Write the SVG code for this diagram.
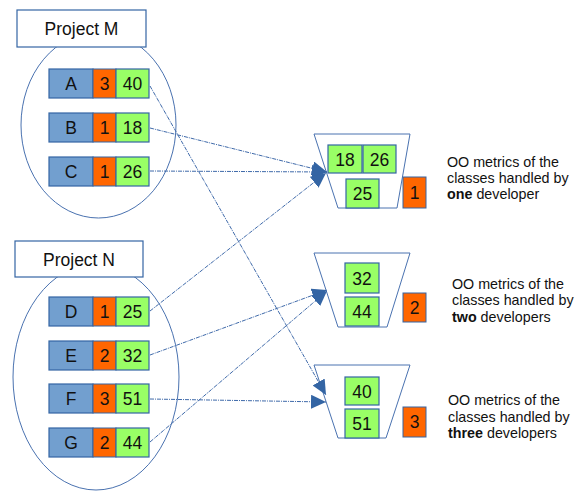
<svg xmlns="http://www.w3.org/2000/svg" width="576" height="491" viewBox="0 0 576 491">
<style>
text{font-family:"Liberation Sans",Arial,sans-serif;fill:#111}
.lbl{font-size:17.5px;text-anchor:middle}
.proj{font-size:17.5px;text-anchor:middle}
.desc{font-size:14.3px}
.b{fill:#729fcf;stroke:#3465a4;stroke-width:1.2}
.o{fill:#ff6600;stroke:#3465a4;stroke-width:1}
.g{fill:#99ff66;stroke:#3465a4;stroke-width:1.2}
.box{fill:#fff;stroke:#3465a4;stroke-width:1.2}
.ell{fill:none;stroke:#4a72b0;stroke-width:1}
.fun{fill:#fff;stroke:#4a72b0;stroke-width:1}
.con{fill:none;stroke:#3f6aaa;stroke-width:1;stroke-dasharray:4 1 1 1;marker-end:url(#ah)}
</style>
<defs>
<marker id="ah" markerUnits="userSpaceOnUse" markerWidth="16" markerHeight="14" refX="15" refY="7" orient="auto">
<path d="M0,0 L15,7 L0,14 z" fill="#3465a4"/>
</marker>
</defs>
<rect width="576" height="491" fill="#fff"/>

<g id="projectM">
<ellipse class="ell" cx="98.5" cy="125" rx="77.5" ry="93"/>
<rect class="box" x="17" y="10" width="129" height="37"/>
<text class="proj" x="81.5" y="35">Project M</text>
</g>
<g id="projectN">
<ellipse class="ell" cx="96" cy="377" rx="83" ry="113"/>
<rect class="box" x="15" y="241" width="128" height="36"/>
<text class="proj" x="79" y="266">Project N</text>
</g>

<g id="rowA">
<rect class="b" x="49" y="69" width="44" height="29"/><rect class="o" x="93" y="69" width="23" height="29"/><rect class="g" x="116" y="69" width="33" height="29"/>
<text class="lbl" x="71" y="90">A</text><text class="lbl" x="104.5" y="90">3</text><text class="lbl" x="132.5" y="90">40</text>
</g>
<g id="rowB">
<rect class="b" x="49" y="113" width="44" height="29"/><rect class="o" x="93" y="113" width="23" height="29"/><rect class="g" x="116" y="113" width="33" height="29"/>
<text class="lbl" x="71" y="134">B</text><text class="lbl" x="104.5" y="134">1</text><text class="lbl" x="132.5" y="134">18</text>
</g>
<g id="rowC">
<rect class="b" x="49" y="157" width="44" height="29"/><rect class="o" x="93" y="157" width="23" height="29"/><rect class="g" x="116" y="157" width="33" height="29"/>
<text class="lbl" x="71" y="178">C</text><text class="lbl" x="104.5" y="178">1</text><text class="lbl" x="132.5" y="178">26</text>
</g>
<g id="rowD">
<rect class="b" x="49" y="297" width="44" height="29"/><rect class="o" x="93" y="297" width="23" height="29"/><rect class="g" x="116" y="297" width="33" height="29"/>
<text class="lbl" x="71" y="318">D</text><text class="lbl" x="104.5" y="318">1</text><text class="lbl" x="132.5" y="318">25</text>
</g>
<g id="rowE">
<rect class="b" x="49" y="341" width="44" height="29"/><rect class="o" x="93" y="341" width="23" height="29"/><rect class="g" x="116" y="341" width="33" height="29"/>
<text class="lbl" x="71" y="362">E</text><text class="lbl" x="104.5" y="362">2</text><text class="lbl" x="132.5" y="362">32</text>
</g>
<g id="rowF">
<rect class="b" x="49" y="384" width="44" height="29"/><rect class="o" x="93" y="384" width="23" height="29"/><rect class="g" x="116" y="384" width="33" height="29"/>
<text class="lbl" x="71" y="405">F</text><text class="lbl" x="104.5" y="405">3</text><text class="lbl" x="132.5" y="405">51</text>
</g>
<g id="rowG">
<rect class="b" x="49" y="428" width="44" height="29"/><rect class="o" x="93" y="428" width="23" height="29"/><rect class="g" x="116" y="428" width="33" height="29"/>
<text class="lbl" x="71" y="449">G</text><text class="lbl" x="104.5" y="449">2</text><text class="lbl" x="132.5" y="449">44</text>
</g>

<g id="group1">
<path class="fun" d="M314,134 L410,134 L397,208 L338,208 Z"/>
<rect class="g" x="328" y="145" width="34" height="28"/><text class="lbl" x="345" y="166">18</text>
<rect class="g" x="363" y="145" width="33" height="28"/><text class="lbl" x="379.5" y="166">26</text>
<rect class="g" x="346" y="179" width="33" height="29"/><text class="lbl" x="362.5" y="200">25</text>
<rect class="o" x="403" y="177" width="23" height="31"/><text class="lbl" x="414.5" y="199">1</text>
<text class="desc" x="447" y="167">OO metrics of the</text>
<text class="desc" x="447" y="183">classes handled by</text>
<text class="desc" x="447" y="199"><tspan font-weight="bold">one</tspan> developer</text>
</g>
<g id="group2">
<path class="fun" d="M314,253 L410,253 L387,327 L338,327 Z"/>
<rect class="g" x="345" y="263" width="34" height="30"/><text class="lbl" x="362" y="285">32</text>
<rect class="g" x="345" y="297" width="34" height="29"/><text class="lbl" x="362" y="318">44</text>
<rect class="o" x="403" y="293" width="23" height="29"/><text class="lbl" x="414.5" y="314">2</text>
<text class="desc" x="452" y="289">OO metrics of the</text>
<text class="desc" x="452" y="305">classes handled by</text>
<text class="desc" x="452" y="322"><tspan font-weight="bold">two</tspan> developers</text>
</g>
<g id="group3">
<path class="fun" d="M314,365 L410,365 L386,438 L338,438 Z"/>
<rect class="g" x="345" y="377" width="34" height="28"/><text class="lbl" x="362" y="398">40</text>
<rect class="g" x="345" y="409" width="34" height="29"/><text class="lbl" x="362" y="430">51</text>
<rect class="o" x="403" y="407" width="23" height="30"/><text class="lbl" x="414.5" y="428">3</text>
<text class="desc" x="448" y="405">OO metrics of the</text>
<text class="desc" x="448" y="422">classes handled by</text>
<text class="desc" x="448" y="438"><tspan font-weight="bold">three</tspan> developers</text>
</g>

<g id="connectors">
<line class="con" x1="150" y1="86" x2="326" y2="395"/>
<line class="con" x1="150" y1="128" x2="327" y2="172"/>
<line class="con" x1="150" y1="171" x2="327" y2="172"/>
<line class="con" x1="150" y1="311" x2="326" y2="173"/>
<line class="con" x1="150" y1="355" x2="327" y2="290"/>
<line class="con" x1="150" y1="399" x2="326" y2="402"/>
<line class="con" x1="150" y1="442" x2="327" y2="291"/>
</g>
</svg>
